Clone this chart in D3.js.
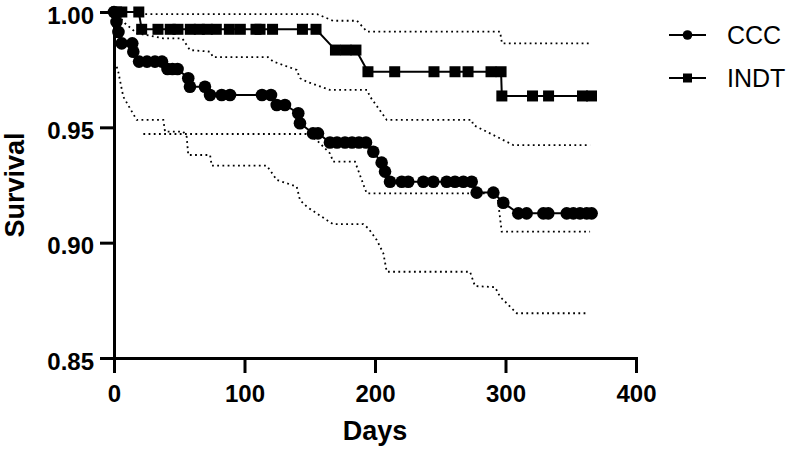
<!DOCTYPE html>
<html>
<head>
<meta charset="utf-8">
<script src="https://cdn.jsdelivr.net/npm/d3@7"></script>
<style>
  html, body { margin: 0; padding: 0; background: #fff; }
  svg { display: block; }
</style>
</head>
<body>
<svg id="chart" width="796" height="452"></svg>
<script>
// ---- Data (days, survival) ----
const seriesNames = ["CCC", "INDT"];
const xTicks = [0, 100, 200, 300, 400];
const yTicks = [0.85, 0.90, 0.95, 1.00];

const cccPoints = [
  [0, 1.0], [1.9, 0.9957], [3.4, 0.9913], [5.9, 0.9864], [14, 0.9864],
  [14.8, 0.9828], [19.2, 0.9785], [25.3, 0.9785], [31.4, 0.9785], [36.8, 0.9785],
  [41, 0.9753], [44.8, 0.9753], [48.7, 0.9753],
  [56.9, 0.9713], [58.2, 0.9676], [69.7, 0.9676],
  [73.6, 0.964], [82.5, 0.964], [88.9, 0.964], [113.4, 0.964], [120.3, 0.964],
  [124.7, 0.9597], [131, 0.9597], [141.2, 0.9561], [142.5, 0.9518],
  [152.5, 0.9474], [156.3, 0.9474],
  [165.5, 0.9434], [170.9, 0.9434], [177, 0.9434], [182.4, 0.9434], [187.7, 0.9434], [193.1, 0.9434],
  [198.7, 0.9394], [205.1, 0.9347], [207.7, 0.9308], [211.5, 0.9264],
  [220.5, 0.9264], [225.5, 0.9264], [237, 0.9264], [244.7, 0.9264], [254.9, 0.9264],
  [261.3, 0.9264], [267.7, 0.9264], [274.1, 0.9264],
  [277.9, 0.9217], [290.7, 0.9217], [298.3, 0.9173],
  [309.8, 0.9127], [316.2, 0.9127], [329, 0.9127], [332.8, 0.9127], [346.9, 0.9127],
  [352, 0.9127], [357.1, 0.9127], [362.2, 0.9127], [366, 0.9127]
];

const indtPoints = [
  [2, 1.0], [6, 1.0], [19, 1.0],
  [21.2, 0.9925], [33.7, 0.9925], [43.1, 0.9925], [49, 0.9925], [58.5, 0.9925],
  [65.4, 0.9925], [71.5, 0.9925], [78.4, 0.9925], [88.4, 0.9925], [96.8, 0.9925],
  [108.8, 0.9925], [111.9, 0.9925], [121.5, 0.9925], [144.4, 0.9925], [154.8, 0.9925],
  [169.7, 0.9835], [177.8, 0.9835], [185.4, 0.9835],
  [194.6, 0.9741], [215.1, 0.9741], [245.2, 0.9741], [261.3, 0.9741], [271.3, 0.9741],
  [288.9, 0.9741], [296.6, 0.9741],
  [297.2, 0.9636], [320.7, 0.9636], [333, 0.9636], [359, 0.9636], [365.9, 0.9636]
];

// 95% confidence bands (dotted)
const indtUpper = [
  [20, 0.9991], [155.6, 0.9991], [167.8, 0.9962], [186.2, 0.9962], [193.9, 0.9915],
  [295.8, 0.9915], [297.3, 0.9864], [364.8, 0.9864]
];
const cccUpper = [
  [3.1, 0.9987], [8.4, 0.9951], [17.4, 0.9908], [37.8, 0.9886], [51.9, 0.9886],
  [53.1, 0.9879], [58.2, 0.9835], [73.6, 0.9828], [75.9, 0.9804], [118, 0.9804],
  [122.1, 0.9785], [140, 0.9749], [142.5, 0.9713], [147.7, 0.9698], [165.5, 0.9662],
  [193.9, 0.9662], [196.2, 0.9633], [209, 0.9532], [274.1, 0.9532], [275.3, 0.951],
  [288.1, 0.9474], [306, 0.9423], [364.8, 0.9423]
];
const indtLower = [
  [22.5, 0.9471], [147.7, 0.9471], [155.3, 0.9445], [165.5, 0.9387], [168, 0.9351],
  [184.7, 0.9351], [193.6, 0.9214], [293.5, 0.9214], [297.1, 0.9048], [364.8, 0.9048]
];
const cccLower = [
  [2.1, 0.9763], [3.3, 0.974], [7.1, 0.9633], [17.4, 0.9532], [37.8, 0.9532],
  [39.1, 0.9481], [53.1, 0.9481], [55.7, 0.9459], [56.9, 0.938], [73.6, 0.938],
  [74.9, 0.9334], [117, 0.9334], [119.5, 0.9315], [124.7, 0.9272], [140, 0.9243],
  [142.5, 0.9185], [147.7, 0.9156], [163, 0.9098], [168, 0.908], [191, 0.908],
  [194.9, 0.9062], [201.3, 0.9012], [206.4, 0.8954], [209, 0.8874], [272.8, 0.8874],
  [276.6, 0.8812], [292, 0.8807], [295.8, 0.8766], [308.6, 0.8694], [363.5, 0.8694]
];

// ---- Drawing ----
const svg = d3.select("#chart");
const FONT = "Arial, 'Liberation Sans', Helvetica, sans-serif";

const x = d3.scaleLinear().domain([0, 400]).range([114, 636]);
const y = d3.scaleLinear().domain([0.85, 1.0]).range([358, 12]);

const line = d3.line().x(d => x(d[0])).y(d => y(d[1]));

// Confidence bands
[indtUpper, cccUpper, indtLower, cccLower].forEach(band => {
  svg.append("path")
    .datum(band)
    .attr("d", line)
    .attr("fill", "none")
    .attr("stroke", "#000")
    .attr("stroke-width", 1.8)
    .attr("stroke-dasharray", "1.8,3.4");
});

// Survival lines
[cccPoints, indtPoints].forEach(pts => {
  svg.append("path")
    .datum(pts)
    .attr("d", line)
    .attr("fill", "none")
    .attr("stroke", "#000")
    .attr("stroke-width", 2);
});

// Markers
svg.append("g").selectAll("circle")
  .data(cccPoints)
  .join("circle")
  .attr("cx", d => x(d[0]))
  .attr("cy", d => y(d[1]))
  .attr("r", 6.3)
  .attr("fill", "#000");

const sq = 11;
svg.append("g").selectAll("rect")
  .data(indtPoints)
  .join("rect")
  .attr("x", d => x(d[0]) - sq / 2)
  .attr("y", d => y(d[1]) - sq / 2)
  .attr("width", sq)
  .attr("height", sq)
  .attr("fill", "#000");

// Axes
const xAxis = svg.append("g")
  .attr("transform", `translate(0,${y(0.85)})`)
  .call(d3.axisBottom(x).tickValues(xTicks).tickSize(15).tickSizeOuter(0).tickPadding(12).tickFormat(d3.format("d")));
const yAxis = svg.append("g")
  .attr("transform", `translate(${x(0)},0)`)
  .call(d3.axisLeft(y).tickValues(yTicks).tickSize(14).tickSizeOuter(0).tickPadding(6).tickFormat(d3.format(".2f")));

[xAxis, yAxis].forEach(g => {
  g.select(".domain").attr("stroke-width", 3).attr("stroke-linecap", "square");
  g.selectAll(".tick line").attr("stroke-width", 3);
  g.selectAll(".tick text")
    .attr("font-family", FONT)
    .attr("font-size", 24)
    .attr("font-weight", "bold")
    .attr("fill", "#000");
});
yAxis.selectAll(".tick text").attr("dy", "0.46em");

// Axis titles
svg.append("text")
  .attr("x", (x(0) + x(400)) / 2)
  .attr("y", 440)
  .attr("text-anchor", "middle")
  .attr("font-family", FONT)
  .attr("font-size", 27)
  .attr("font-weight", "bold")
  .text("Days");

svg.append("text")
  .attr("transform", `translate(23.5,${(y(0.85) + y(1.0)) / 2}) rotate(-90)`)
  .attr("text-anchor", "middle")
  .attr("font-family", FONT)
  .attr("font-size", 27)
  .attr("font-weight", "bold")
  .text("Survival");

// Legend
const legend = svg.append("g");
const legendRows = [
  { name: seriesNames[0], y: 35, shape: "circle" },
  { name: seriesNames[1], y: 78, shape: "square" }
];
legendRows.forEach(r => {
  legend.append("line")
    .attr("x1", 669).attr("x2", 706)
    .attr("y1", r.y).attr("y2", r.y)
    .attr("stroke", "#000").attr("stroke-width", 2);
  if (r.shape === "circle") {
    legend.append("circle").attr("cx", 687.5).attr("cy", r.y).attr("r", 4.8).attr("fill", "#000");
  } else {
    legend.append("rect").attr("x", 687.5 - 4.5).attr("y", r.y - 4.5).attr("width", 9).attr("height", 9).attr("fill", "#000");
  }
  legend.append("text")
    .attr("x", 727)
    .attr("y", r.y + 9)
    .attr("font-family", FONT)
    .attr("font-size", 25)
    .attr("fill", "#000")
    .text(r.name);
});
</script>
</body>
</html>
